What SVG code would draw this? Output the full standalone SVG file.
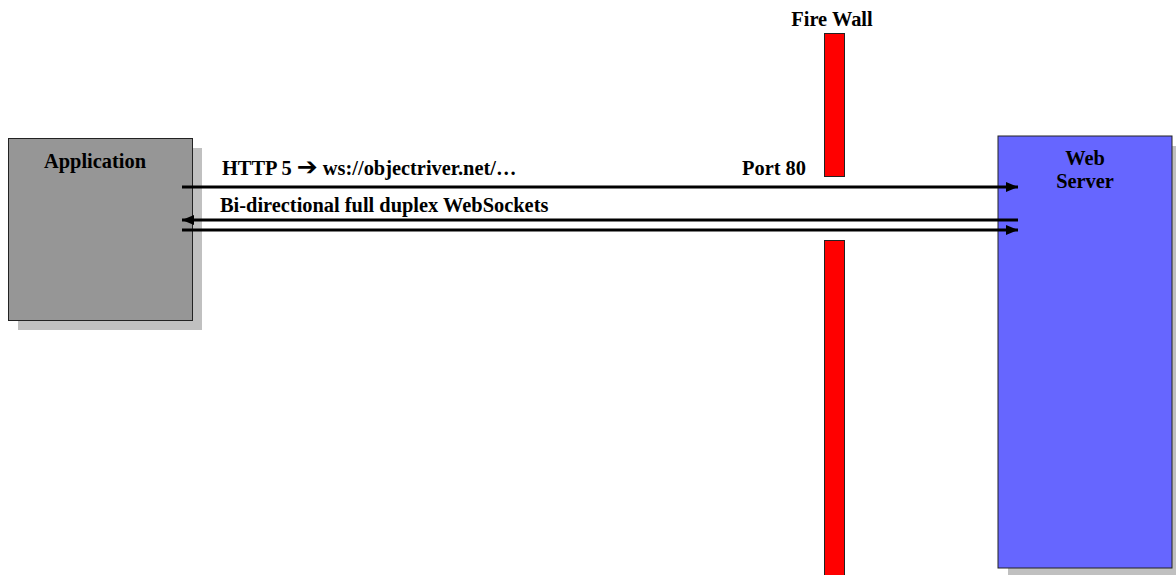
<svg xmlns="http://www.w3.org/2000/svg" width="1176" height="575" viewBox="0 0 1176 575">
  <defs>
    <style>
      .lbl { font-family: "Liberation Serif", "Times New Roman", serif; font-weight: bold; font-size: 20.4px; fill: #000; }
      .shadow { fill: #c0c0c0; }
      .box { stroke: #222; stroke-width: 1; }
      .wall { fill: #ff0000; stroke: #222; stroke-width: 1; }
      .link { stroke: #000; stroke-width: 3; fill: none; }
    </style>
    <marker id="head" viewBox="0 0 12 10" refX="12" refY="5" markerWidth="12" markerHeight="10" markerUnits="userSpaceOnUse" orient="auto-start-reverse">
      <path d="M0,0 L12,5 L0,10 Z" fill="#000"/>
    </marker>
  </defs>
  <rect width="1176" height="575" fill="#fff"/>

  <!-- client application -->
  <g id="application">
    <rect class="shadow" x="18" y="148" width="184" height="182"/>
    <rect class="box" x="8.5" y="138.5" width="184" height="182" fill="#969696"/>
    <text class="lbl" x="95" y="168" text-anchor="middle">Application</text>
  </g>

  <!-- firewall, split where port 80 passes through -->
  <g id="firewall">
    <text class="lbl" x="832" y="26" text-anchor="middle">Fire Wall</text>
    <rect class="wall" x="824.5" y="33.5" width="20" height="143"/>
    <rect class="wall" x="824.5" y="240.5" width="20" height="340"/>
  </g>

  <!-- server -->
  <g id="web-server">
    <rect class="shadow" x="1008" y="146" width="180" height="432"/>
    <rect class="box" x="998" y="136" width="174" height="432" fill="#6666ff"/>
    <text class="lbl" x="1085" y="165" text-anchor="middle">Web</text>
    <text class="lbl" x="1085" y="188" text-anchor="middle">Server</text>
  </g>

  <!-- connections -->
  <g id="connectors">
    <line class="link" x1="182" y1="187" x2="1018" y2="187" marker-end="url(#head)"/>
    <line class="link" x1="1018" y1="220" x2="182" y2="220" marker-end="url(#head)"/>
    <line class="link" x1="182" y1="230" x2="1018" y2="230" marker-end="url(#head)"/>
    <text class="lbl" x="222" y="175">HTTP 5 <tspan font-family="DejaVu Sans, sans-serif" font-size="25">➔</tspan> ws://objectriver.net/…</text>
    <text class="lbl" x="220" y="212">Bi-directional full duplex WebSockets</text>
    <text class="lbl" x="742" y="175">Port 80</text>
  </g>
</svg>
